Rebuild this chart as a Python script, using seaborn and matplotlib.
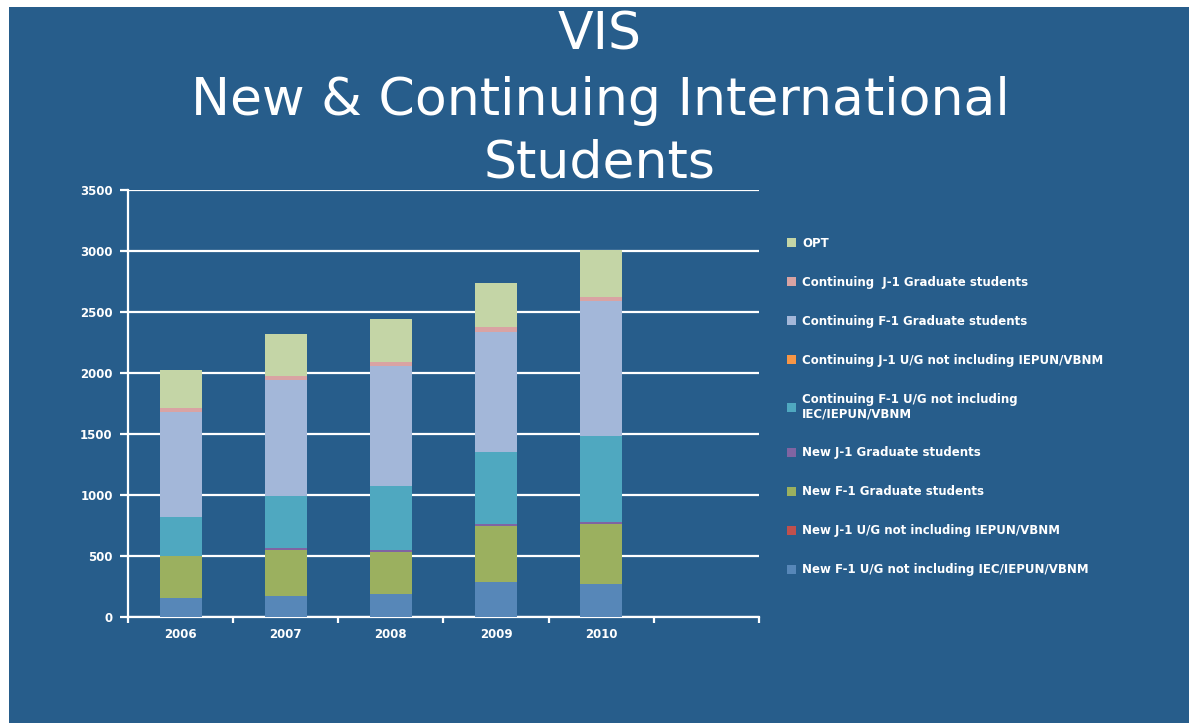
import matplotlib
matplotlib.use("Agg")
import matplotlib.pyplot as plt
from matplotlib.patches import Patch, Rectangle
import numpy as np
import pandas as pd
import seaborn as sns

years = ["2006", "2007", "2008", "2009", "2010"]

# stacking order, bottom to top
series = [
    "New F-1 U/G not including IEC/IEPUN/VBNM",
    "New J-1 U/G not including IEPUN/VBNM",
    "New F-1 Graduate students",
    "New J-1 Graduate students",
    "Continuing F-1 U/G not including\nIEC/IEPUN/VBNM",
    "Continuing J-1 U/G not including IEPUN/VBNM",
    "Continuing F-1 Graduate students",
    "Continuing  J-1 Graduate students",
    "OPT",
]
new_f1_ug = [154, 171, 187, 283, 269]
new_j1_ug = [0, 0, 0, 0, 0]
new_f1_grad = [345, 377, 345, 462, 493]
new_j1_grad = [3, 20, 16, 17, 16]
cont_f1_ug = [315, 423, 525, 590, 709]
cont_j1_ug = [0, 0, 0, 0, 0]
cont_f1_grad = [867, 955, 988, 988, 1100]
cont_j1_grad = [32, 33, 33, 33, 32]
opt = [312, 342, 345, 361, 389]

colors = ["#5787B8", "#C0504D", "#9BB05F", "#8064A2", "#4FA8C0",
          "#F79646", "#A3B7D9", "#D9A3A3", "#C4D5A6"]

bg = "#275D8B"

values = np.array([new_f1_ug, new_j1_ug, new_f1_grad, new_j1_grad, cont_f1_ug,
                   cont_j1_ug, cont_f1_grad, cont_j1_grad, opt])
tops = values.cumsum(axis=0)

fig = plt.figure(figsize=(11.89, 7.23), dpi=100, facecolor="white")
fig.patches.append(Rectangle((9 / 1189, 0), 1, 716 / 723, transform=fig.transFigure,
                             facecolor=bg, edgecolor="none", zorder=-10))

ax = fig.add_axes([128 / 1189, (723 - 617) / 723, (759 - 128) / 1189, 427 / 723])
ax.set_facecolor("none")

# overlay cumulative bars, tallest first
for i in range(len(series) - 1, -1, -1):
    df = pd.DataFrame({"year": years, "top": tops[i]})
    sns.barplot(data=df, x="year", y="top", order=years, color=colors[i],
                width=0.4, saturation=1, linewidth=0, ax=ax, zorder=3)

ax.set_xlim(-0.5, 5.5)
ax.set_ylim(0, 3500)
ax.set_yticks(range(0, 3501, 500))
ax.set_xlabel("")
ax.set_ylabel("")
ax.grid(axis="y", color="white", linewidth=1.6, zorder=0)
ax.set_axisbelow(True)
for side in ["top", "right"]:
    ax.spines[side].set_visible(False)
for side in ["left", "bottom"]:
    ax.spines[side].set_color("white")
    ax.spines[side].set_linewidth(1.6)

ax.tick_params(axis="y", colors="white", length=6, width=1.6, pad=5,
               labelsize=8.5)
ax.tick_params(axis="x", which="major", length=0, pad=8, colors="white",
               labelsize=8.5)
ax.set_xticks(np.arange(-0.5, 5.6, 1), minor=True)
ax.tick_params(axis="x", which="minor", length=4, width=1.6, color="white")
for lab in ax.get_xticklabels() + ax.get_yticklabels():
    lab.set_fontweight("bold")

title_lines = ["VIS", "New & Continuing International", "Students"]
baselines = [50, 115, 177]
for line, yb in zip(title_lines, baselines):
    fig.text(600 / 1189, 1 - yb / 723, line, color="white", fontsize=37.5,
             family="DejaVu Sans", ha="center", va="baseline")

handles = [Patch(facecolor=colors[i], edgecolor="none", label=series[i])
           for i in range(len(series) - 1, -1, -1)]
leg = fig.legend(handles=handles, loc="upper left",
                 bbox_to_anchor=(776 / 1189, 1 - 226 / 723), frameon=False,
                 labelcolor="white", handlelength=0.8,
                 handleheight=0.8, handletextpad=0.5, labelspacing=2.2,
                 prop={"weight": "bold", "size": 8.5})

fig.savefig("out.png", dpi=100, facecolor=fig.get_facecolor())
